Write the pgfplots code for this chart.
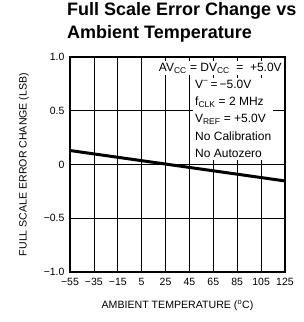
\documentclass[border=0pt]{standalone}
\usepackage{pgfplots}
\pgfplotsset{compat=1.18}
\usepackage{fontspec}
\setmainfont{Liberation Sans}
\begin{document}
\begin{tikzpicture}[x=1bp,y=1bp]
\useasboundingbox (0,0) rectangle (304,322);
\node[anchor=north west, align=left, inner sep=0pt,
      font=\fontsize{18bp}{23.5bp}\selectfont\bfseries] at (67,320)
  {Full Scale Error Change vs\\Ambient Temperature};
\begin{axis}[
  at={(70bp,50bp)}, anchor=south west,
  scale only axis, width=215bp, height=215bp,
  xmin=-55, xmax=125, ymin=-1, ymax=1,
  xtick={-55,-35,-15,5,25,45,65,85,105,125},
  xticklabels={−55,−35,−15,5,25,45,65,85,105,125},
  ytick={-1,-0.5,0,0.5,1},
  yticklabels={−1.0,−0.5,0,0.5,1.0},
  major tick length=0pt,
  grid=major,
  major grid style={black, line width=0.7bp},
  axis line style={black, line width=1.3bp},
  tick label style={font=\fontsize{10.5bp}{12bp}\selectfont},
  xticklabel style={yshift=-3bp},
  yticklabel style={xshift=-2bp},
  label style={font=\fontsize{10.6bp}{12bp}\selectfont},
  xlabel={AMBIENT TEMPERATURE (\textsuperscript{o}C)},
  ylabel={FULL SCALE ERROR CHANGE (LSB)},
  xlabel style={at={(axis description cs:0.5,-0.155)}, anchor=center},
  ylabel style={at={(axis description cs:-0.215,0.5)}, anchor=center},
  clip=false,
]
\addplot[black, line width=3bp] coordinates {(-55,0.13) (125,-0.153)};
\node[anchor=east, fill=white, inner xsep=2bp, inner ysep=2bp,
      font=\fontsize{12bp}{13bp}\selectfont] at (rel axis cs:0.995,0.949)
  {AV\textsubscript{CC} = DV\textsubscript{CC} \ = \ +5.0V};
\node[anchor=north west, fill=white, align=left, inner xsep=2bp, inner ysep=2bp,
      font=\fontsize{12bp}{17.4bp}\selectfont] at (rel axis cs:0.572,0.905)
  {V\textsuperscript{−}\,=\,−5.0V\\
   f\textsubscript{CLK} = 2 MHz\\
   V\textsubscript{REF} = +5.0V\\
   No Calibration\\
   No Autozero};
\end{axis}
\end{tikzpicture}
\end{document}
